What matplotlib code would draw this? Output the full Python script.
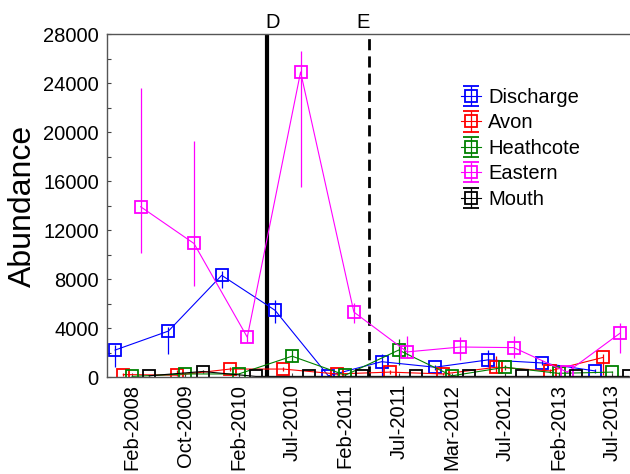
import numpy as np
import matplotlib
matplotlib.use('Agg')
import matplotlib.pyplot as plt

plt.rcParams['font.family'] = ['Liberation Sans', 'DejaVu Sans']

dates = ['Feb-2008', 'Oct-2009', 'Feb-2010', 'Jul-2010', 'Feb-2011',
         'Jul-2011', 'Mar-2012', 'Jul-2012', 'Feb-2013', 'Jul-2013']

discharge = [2200, 3750, 8300, 5450, 100, 1250, 800, 1400, 1150, 500]
discharge_lo = [1400, 1900, 1000, 1050, 50, 1250, 200, 600, 200, 150]
discharge_hi = [400, 300, 350, 800, 50, 650, 200, 800, 200, 150]

avon = [200, 150, 650, 650, 250, 400, 250, 800, 500, 1600]
avon_lo = [100, 100, 150, 150, 100, 150, 100, 500, 150, 1400]
avon_hi = [100, 400, 150, 150, 100, 150, 100, 900, 150, 300]

heathcote = [50, 250, 250, 1700, 150, 2200, 100, 800, 300, 400]
heathcote_lo = [30, 100, 100, 500, 50, 1200, 50, 200, 100, 100]
heathcote_hi = [30, 100, 100, 500, 50, 900, 50, 200, 100, 100]

eastern = [13900, 10900, 3250, 24900, 5300, 2050, 2450, 2400, 400, 3600]
eastern_lo = [3800, 3500, 400, 9400, 900, 500, 1050, 850, 100, 1650]
eastern_hi = [9700, 8350, 200, 1700, 750, 1300, 800, 950, 100, 800]

mouth = [100, 450, 50, 50, 50, 50, 50, 50, 50, 50]
mouth_lo = [50, 150, 30, 30, 30, 30, 30, 30, 30, 30]
mouth_hi = [50, 150, 30, 30, 30, 30, 30, 30, 30, 30]

series = [
    ('Discharge', discharge, discharge_lo, discharge_hi, '#0000ff'),
    ('Avon', avon, avon_lo, avon_hi, '#ff0000'),
    ('Heathcote', heathcote, heathcote_lo, heathcote_hi, '#008000'),
    ('Eastern', eastern, eastern_lo, eastern_hi, '#ff00ff'),
    ('Mouth', mouth, mouth_lo, mouth_hi, '#000000'),
]

fig = plt.figure(figsize=(6.3, 4.74), dpi=100)
ax = fig.add_axes([0.170, 0.2046, 0.830, 0.7236])

x = np.arange(len(dates))
offsets = [-0.32, -0.165, 0.0, 0.16, 0.32]

conts = []
for (name, vals, lo, hi, col), off in zip(series, offsets):
    c = ax.errorbar(x + off, vals, yerr=[lo, hi], color=col, lw=0.8,
                    elinewidth=0.9, marker='s', mfc='none', mec=col,
                    ms=8.5, mew=1.3, capsize=6, label=name)
    conts.append(c)

ax.axvline(2.53, color='black', lw=3)
ax.axvline(4.45, color='black', lw=2, dashes=(4, 2.2))
ax.text(2.63, 28500, 'D', ha='center', va='baseline', fontsize=14.5)
ax.text(4.33, 28500, 'E', ha='center', va='baseline', fontsize=14.5)

ax.set_xlim(-0.47, 9.34)
ax.set_ylim(0, 28000)
ax.set_yticks(np.arange(0, 28001, 2000))
ax.set_yticklabels([str(v) if v % 4000 == 0 else '' for v in range(0, 28001, 2000)])
ax.set_xticks(x)
ax.set_xticklabels(dates, rotation=90)
ax.tick_params(axis='both', direction='in', length=3, labelsize=14.5, color='#444444')
ax.tick_params(axis='y', pad=6)
ax.tick_params(axis='x', pad=5)
ax.set_ylabel('Abundance', fontsize=23, labelpad=4)

for s in ['left', 'top', 'bottom']:
    ax.spines[s].set_color('#555555')
    ax.spines[s].set_linewidth(1.0)
ax.spines['right'].set_visible(False)

leg = ax.legend(loc='upper left', bbox_to_anchor=(453 / 630, 1 - 80 / 474),
                bbox_transform=fig.transFigure, frameon=False, fontsize=14.5,
                handlelength=1.0, handletextpad=0.35, labelspacing=0.32,
                borderaxespad=0)

# hide the caps on the plot itself, the legend keeps its copies
for c in conts:
    for cap in c[1]:
        cap.set_visible(False)

fig.savefig('out.png', dpi=100)
